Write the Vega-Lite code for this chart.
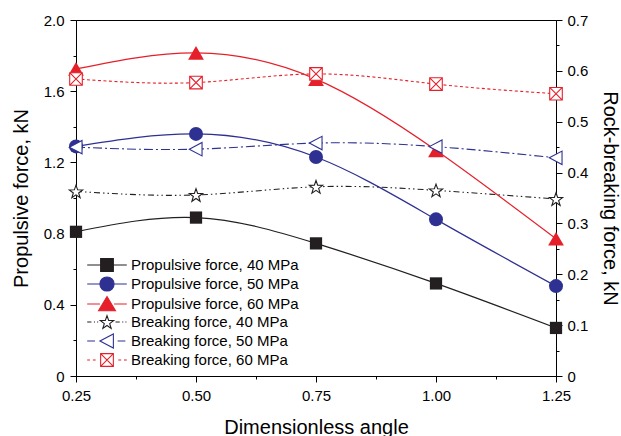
{
  "$schema": "https://vega.github.io/schema/vega-lite/v6.json",
  "width": 480,
  "height": 356,
  "autosize": "none",
  "padding": {"left": 76, "top": 20, "right": 65, "bottom": 60},
  "config": {
    "font": "Liberation Sans",
    "view": {"stroke": "#000", "strokeWidth": 1},
    "axis": {
      "grid": false,
      "domainColor": "#000",
      "tickColor": "#000",
      "labelColor": "#000",
      "titleColor": "#000",
      "labelFontSize": 15,
      "titleFontSize": 20,
      "titleFontWeight": "normal",
      "labelFont": "Liberation Sans",
      "titleFont": "Liberation Sans"
    },
    "legend": {"labelFont": "Liberation Sans"}
  },
  "data": {
    "values": [
      {"x": 0.25, "group": "P", "series": "Propulsive force, 40 MPa", "value": 0.81},
      {"x": 0.5, "group": "P", "series": "Propulsive force, 40 MPa", "value": 0.89},
      {"x": 0.75, "group": "P", "series": "Propulsive force, 40 MPa", "value": 0.745},
      {"x": 1.0, "group": "P", "series": "Propulsive force, 40 MPa", "value": 0.52},
      {"x": 1.25, "group": "P", "series": "Propulsive force, 40 MPa", "value": 0.27},
      {"x": 0.25, "group": "P", "series": "Propulsive force, 50 MPa", "value": 1.29},
      {"x": 0.5, "group": "P", "series": "Propulsive force, 50 MPa", "value": 1.36},
      {"x": 0.75, "group": "P", "series": "Propulsive force, 50 MPa", "value": 1.23},
      {"x": 1.0, "group": "P", "series": "Propulsive force, 50 MPa", "value": 0.88},
      {"x": 1.25, "group": "P", "series": "Propulsive force, 50 MPa", "value": 0.505},
      {"x": 0.25, "group": "P", "series": "Propulsive force, 60 MPa", "value": 1.725},
      {"x": 0.5, "group": "P", "series": "Propulsive force, 60 MPa", "value": 1.815},
      {"x": 0.75, "group": "P", "series": "Propulsive force, 60 MPa", "value": 1.668},
      {"x": 1.0, "group": "P", "series": "Propulsive force, 60 MPa", "value": 1.268},
      {"x": 1.25, "group": "P", "series": "Propulsive force, 60 MPa", "value": 0.771},
      {"x": 0.25, "group": "B", "series": "Breaking force, 40 MPa", "value": 0.363},
      {"x": 0.5, "group": "B", "series": "Breaking force, 40 MPa", "value": 0.356},
      {"x": 0.75, "group": "B", "series": "Breaking force, 40 MPa", "value": 0.372},
      {"x": 1.0, "group": "B", "series": "Breaking force, 40 MPa", "value": 0.365},
      {"x": 1.25, "group": "B", "series": "Breaking force, 40 MPa", "value": 0.348},
      {"x": 0.25, "group": "B", "series": "Breaking force, 50 MPa", "value": 0.45},
      {"x": 0.5, "group": "B", "series": "Breaking force, 50 MPa", "value": 0.446},
      {"x": 0.75, "group": "B", "series": "Breaking force, 50 MPa", "value": 0.458},
      {"x": 1.0, "group": "B", "series": "Breaking force, 50 MPa", "value": 0.451},
      {"x": 1.25, "group": "B", "series": "Breaking force, 50 MPa", "value": 0.429},
      {"x": 0.25, "group": "B", "series": "Breaking force, 60 MPa", "value": 0.584},
      {"x": 0.5, "group": "B", "series": "Breaking force, 60 MPa", "value": 0.577},
      {"x": 0.75, "group": "B", "series": "Breaking force, 60 MPa", "value": 0.594},
      {"x": 1.0, "group": "B", "series": "Breaking force, 60 MPa", "value": 0.574},
      {"x": 1.25, "group": "B", "series": "Breaking force, 60 MPa", "value": 0.555}
    ]
  },
  "layer": [
    {
      "transform": [{"filter": "datum.group == 'P'"}],
      "encoding": {
        "x": {
          "field": "x", "type": "quantitative",
          "scale": {"domain": [0.25, 1.25], "nice": false, "zero": false},
          "axis": {
            "title": "Dimensionless angle",
            "values": [0.25, 0.375, 0.5, 0.625, 0.75, 0.875, 1.0, 1.125, 1.25],
            "labelExpr": "round(datum.value*8) % 2 == 0 ? format(datum.value, '.2f') : ''",
            "tickSize": {"condition": {"test": "round(datum.value*8) % 2 == 0", "value": 6}, "value": 3},
            "labelFlush": false,
            "labelPadding": 6,
            "titlePadding": 14
          }
        },
        "y": {
          "field": "value", "type": "quantitative",
          "scale": {"domain": [0, 2], "nice": false},
          "axis": {
            "orient": "left",
            "title": "Propulsive force, kN",
            "values": [0, 0.2, 0.4, 0.6, 0.8, 1.0, 1.2, 1.4, 1.6, 1.8, 2.0],
            "labelExpr": "round(datum.value*10) % 4 == 0 ? (datum.value == 0 ? '0' : format(datum.value, '.1f')) : ''",
            "tickSize": {"condition": {"test": "round(datum.value*10) % 4 == 0", "value": 6}, "value": 3},
            "labelFlush": false,
            "labelPadding": 6,
            "titlePadding": 12
          }
        }
      },
      "layer": [
        {
          "transform": [{"filter": "datum.series == 'Propulsive force, 40 MPa'"}],
          "mark": {"type": "line", "interpolate": "natural", "strokeWidth": 1.2, "color": "#231f20"}
        },
        {
          "transform": [{"filter": "datum.series == 'Propulsive force, 50 MPa'"}],
          "mark": {"type": "line", "interpolate": "natural", "strokeWidth": 1.2, "color": "#2e3192"}
        },
        {
          "transform": [{"filter": "datum.series == 'Propulsive force, 60 MPa'"}],
          "mark": {"type": "line", "interpolate": "natural", "strokeWidth": 1.2, "color": "#e5202a"}
        },
        {
          "transform": [{"filter": "datum.series == 'Propulsive force, 40 MPa'"}],
          "mark": {"type": "point", "shape": "square", "filled": true, "color": "#231f20", "size": 150, "opacity": 1}
        },
        {
          "transform": [{"filter": "datum.series == 'Propulsive force, 50 MPa'"}],
          "mark": {"type": "point", "shape": "circle", "filled": true, "color": "#2e3192", "size": 196, "opacity": 1}
        },
        {
          "transform": [{"filter": "datum.series == 'Propulsive force, 60 MPa'"}],
          "mark": {"type": "point", "shape": "triangle-up", "filled": true, "color": "#e5202a", "size": 250, "opacity": 1}
        }
      ]
    },
    {
      "transform": [{"filter": "datum.group == 'B'"}],
      "encoding": {
        "x": {
          "field": "x", "type": "quantitative",
          "scale": {"domain": [0.25, 1.25], "nice": false, "zero": false},
          "axis": {
            "title": "Dimensionless angle",
            "values": [0.25, 0.375, 0.5, 0.625, 0.75, 0.875, 1.0, 1.125, 1.25],
            "labelExpr": "round(datum.value*8) % 2 == 0 ? format(datum.value, '.2f') : ''",
            "tickSize": {"condition": {"test": "round(datum.value*8) % 2 == 0", "value": 6}, "value": 3},
            "labelFlush": false,
            "labelPadding": 6,
            "titlePadding": 14
          }
        },
        "y": {
          "field": "value", "type": "quantitative",
          "scale": {"domain": [0, 0.7], "nice": false},
          "axis": {
            "orient": "right",
            "title": "Rock-breaking force, kN",
            "values": [0, 0.05, 0.1, 0.15, 0.2, 0.25, 0.3, 0.35, 0.4, 0.45, 0.5, 0.55, 0.6, 0.65, 0.7],
            "labelExpr": "round(datum.value*20) % 2 == 0 ? (datum.value == 0 ? '0' : format(datum.value, '.1f')) : ''",
            "tickSize": {"condition": {"test": "round(datum.value*20) % 2 == 0", "value": 6}, "value": 3},
            "labelFlush": false,
            "labelPadding": 5,
            "titlePadding": 12
          }
        }
      },
      "layer": [
        {
          "transform": [{"filter": "datum.series == 'Breaking force, 40 MPa'"}],
          "mark": {"type": "line", "interpolate": "natural", "strokeWidth": 1.1, "color": "#231f20", "strokeDash": [6, 3, 1.5, 3, 1.5, 3]}
        },
        {
          "transform": [{"filter": "datum.series == 'Breaking force, 50 MPa'"}],
          "mark": {"type": "line", "interpolate": "natural", "strokeWidth": 1.1, "color": "#2e3192", "strokeDash": [9, 3, 2, 3]}
        },
        {
          "transform": [{"filter": "datum.series == 'Breaking force, 60 MPa'"}],
          "mark": {"type": "line", "interpolate": "natural", "strokeWidth": 1.1, "color": "#e5202a", "strokeDash": [3, 2.5]}
        },
        {
          "transform": [{"filter": "datum.series == 'Breaking force, 40 MPa'"}],
          "mark": {"type": "point", "shape": "M0,-0.9L0.235,-0.224L0.951,-0.209L0.38,0.224L0.588,0.909L0,0.5L-0.588,0.909L-0.38,0.224L-0.951,-0.209L-0.235,-0.224Z", "filled": false, "fill": "white", "color": "#231f20", "size": 196, "strokeWidth": 1.1, "opacity": 1}
        },
        {
          "transform": [{"filter": "datum.series == 'Breaking force, 50 MPa'"}],
          "mark": {"type": "point", "shape": "M-1,0L0.9,-1L0.9,1Z", "filled": false, "fill": "white", "color": "#2e3192", "size": 180, "strokeWidth": 1.1, "opacity": 1}
        },
        {
          "transform": [{"filter": "datum.series == 'Breaking force, 60 MPa'"}],
          "mark": {"type": "point", "shape": "M-0.9,-0.9L0.9,-0.9L0.9,0.9L-0.9,0.9ZM-0.9,-0.9L0.9,0.9M0.9,-0.9L-0.9,0.9", "filled": false, "fill": "white", "color": "#e5202a", "size": 196, "strokeWidth": 1.1, "opacity": 1}
        }
      ]
    },
    {
      "transform": [{"filter": "datum.group == 'none'"}],
      "mark": {"type": "point", "filled": false, "strokeWidth": 1.1, "opacity": 1},
      "encoding": {
        "color": {
          "field": "series", "type": "nominal",
          "scale": {
            "domain": ["Propulsive force, 40 MPa", "Propulsive force, 50 MPa", "Propulsive force, 60 MPa", "Breaking force, 40 MPa", "Breaking force, 50 MPa", "Breaking force, 60 MPa"],
            "range": ["#231f20", "#2e3192", "#e5202a", "#231f20", "#2e3192", "#e5202a"]
          },
          "legend": {
            "title": null,
            "orient": "none",
            "legendX": 23,
            "legendY": 237,
            "padding": 0,
            "symbolSize": 200,
            "symbolStrokeWidth": 1.1,
            "labelFontSize": 15,
            "labelColor": "#000",
            "labelLimit": 0,
            "labelOffset": 16,
            "rowPadding": 0
          }
        },
        "fill": {
          "field": "series", "type": "nominal",
          "scale": {
            "domain": ["Propulsive force, 40 MPa", "Propulsive force, 50 MPa", "Propulsive force, 60 MPa", "Breaking force, 40 MPa", "Breaking force, 50 MPa", "Breaking force, 60 MPa"],
            "range": ["#231f20", "#2e3192", "#e5202a", "white", "white", "white"]
          },
          "legend": {"title": null}
        },
        "shape": {
          "field": "series", "type": "nominal",
          "scale": {
            "domain": ["Propulsive force, 40 MPa", "Propulsive force, 50 MPa", "Propulsive force, 60 MPa", "Breaking force, 40 MPa", "Breaking force, 50 MPa", "Breaking force, 60 MPa"],
            "range": [
              "M-2.8,0L-0.9,0M0.9,0L2.8,0M-0.9,-0.9L0.9,-0.9L0.9,0.9L-0.9,0.9Z",
              "M-2.8,0L-1,0M1,0L2.8,0M-1,0A1,1,0,1,1,1,0A1,1,0,1,1,-1,0Z",
              "M-2.8,0L-1,0M1,0L2.8,0M0,-1.05L1.2,0.95L-1.2,0.95Z",
              "M-2.8,0L-2.2,0M-1.85,0L-1.7,0M-1.4,0L-1.25,0M1.2,0L1.8,0M2.15,0L2.3,0M2.6,0L2.75,0M0,-0.9L0.235,-0.224L0.951,-0.209L0.38,0.224L0.588,0.909L0,0.5L-0.588,0.909L-0.38,0.224L-0.951,-0.209L-0.235,-0.224Z",
              "M-2.8,0L-1.7,0M1.5,0L2.6,0M-1,0L0.9,-1L0.9,1Z",
              "M-2.8,0L-2.4,0M-2.0,0L-1.6,0M1.6,0L2.0,0M2.4,0L2.8,0M-0.9,-0.9L0.9,-0.9L0.9,0.9L-0.9,0.9ZM-0.9,-0.9L0.9,0.9M0.9,-0.9L-0.9,0.9"
            ]
          },
          "legend": {"title": null}
        }
      }
    }
  ],
  "resolve": {"scale": {"y": "independent"}}
}
